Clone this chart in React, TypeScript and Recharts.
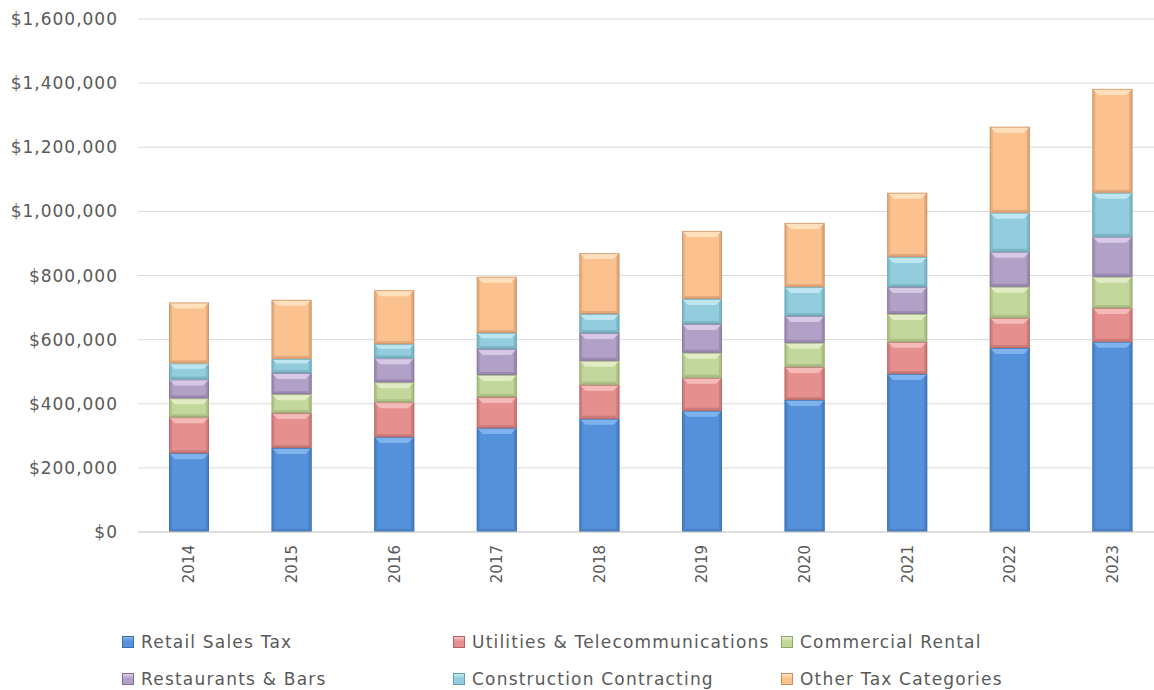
import React from 'react';
import { BarChart, Bar, XAxis, YAxis, CartesianGrid } from 'recharts';

const years = ['2014', '2015', '2016', '2017', '2018', '2019', '2020', '2021', '2022', '2023'];
const retailSales = [246000, 262000, 296000, 324000, 353000, 378000, 412000, 493000, 574000, 593000];
const utilities = [112000, 109000, 109000, 97000, 106000, 103000, 103000, 100000, 94000, 106000];
const commercialRental = [59000, 59000, 62000, 69000, 75000, 78000, 75000, 87000, 97000, 97000];
const restaurants = [59000, 66000, 75000, 81000, 87000, 90000, 84000, 84000, 109000, 125000];
const construction = [50000, 44000, 44000, 50000, 59000, 78000, 90000, 94000, 122000, 137000];
const otherTax = [190000, 184000, 168000, 175000, 190000, 212000, 200000, 200000, 268000, 324000];
const yTicks = [0, 200000, 400000, 600000, 800000, 1000000, 1200000, 1400000, 1600000];

const seriesKeys = ['retail', 'utilities', 'commercial', 'restaurants', 'construction', 'other'];
const seriesNames = [
  'Retail Sales Tax',
  'Utilities & Telecommunications',
  'Commercial Rental',
  'Restaurants & Bars',
  'Construction Contracting',
  'Other Tax Categories',
];
const seriesValues = [retailSales, utilities, commercialRental, restaurants, construction, otherTax];

const palette = [
  { base: '#5591DB', light: '#86B9F0', dark: '#3D6CA8' },
  { base: '#E5908E', light: '#F7C2BF', dark: '#B06462' },
  { base: '#C3D69B', light: '#E6F0CB', dark: '#92A66C' },
  { base: '#B2A1C7', light: '#DCD0EA', dark: '#807097' },
  { base: '#93CDDD', light: '#C6EAF4', dark: '#64A0B0' },
  { base: '#FBC290', light: '#FFE5C6', dark: '#C38E63' },
];

const data = years.map((year, i) => {
  const row: Record<string, string | number> = { year };
  seriesKeys.forEach((k, j) => {
    row[k] = seriesValues[j][i];
  });
  return row;
});

const fmt = (v: number) => '$' + v.toLocaleString('en-US');

const FONT = '"DejaVu Sans", sans-serif';
const TEXT = '#595959';

function Bevel(props: any) {
  const { x, y, width: w, height: h, base, light, dark } = props;
  if (!h || h <= 0) return null;
  const b = Math.min(6, h / 3);
  const s = Math.min(3, h / 4);
  return (
    <g>
      <rect x={x} y={y} width={w} height={h} fill={base} />
      <polygon
        points={`${x},${y} ${x + w},${y} ${x + w - b},${y + b} ${x + b},${y + b}`}
        fill={light}
        opacity={0.85}
      />
      <polygon
        points={`${x},${y} ${x + s},${y + s} ${x + s},${y + h - s} ${x},${y + h}`}
        fill={dark}
        opacity={0.35}
      />
      <polygon
        points={`${x + w},${y} ${x + w - s},${y + s} ${x + w - s},${y + h - s} ${x + w},${y + h}`}
        fill={dark}
        opacity={0.45}
      />
      <polygon
        points={`${x},${y + h} ${x + w},${y + h} ${x + w - s},${y + h - s} ${x + s},${y + h - s}`}
        fill={dark}
        opacity={0.45}
      />
      <rect x={x + 0.5} y={y + 0.5} width={w - 1} height={h - 1} fill="none" stroke={dark} strokeWidth={1} opacity={0.7} />
    </g>
  );
}

function XTick(props: any) {
  const { x, y, payload } = props;
  return (
    <g transform={`translate(${x},${y})`}>
      <text
        transform="rotate(-90)"
        x={0}
        y={0}
        textAnchor="end"
        dominantBaseline="central"
        fill={TEXT}
        fontFamily={FONT}
        fontSize={15}
      >
        {payload.value}
      </text>
    </g>
  );
}

const legendCols = [122, 453, 781];
const legendRows = [642, 679];

export default function App() {
  return (
    <div
      style={{
        position: 'fixed',
        left: 0,
        top: 0,
        width: 1154,
        height: 690,
        overflow: 'hidden',
        background: '#ffffff',
      }}
    >
      <BarChart
        width={1170}
        height={690}
        data={data}
        margin={{ top: 19, right: 6, left: 0, bottom: 88 }}
        barSize={40}
      >
        <CartesianGrid vertical={false} stroke="#D9D9D9" strokeWidth={1} />
        <XAxis
          dataKey="year"
          height={70}
          tickLine={false}
          tickSize={0}
          tickMargin={13}
          axisLine={{ stroke: '#D0D0D0' }}
          tick={<XTick />}
          interval={0}
        />
        <YAxis
          width={138}
          domain={[0, 1600000]}
          ticks={yTicks}
          tickFormatter={fmt}
          axisLine={false}
          tickLine={false}
          tickSize={0}
          tickMargin={20}
          tick={{ fill: TEXT, fontFamily: FONT, fontSize: 17, letterSpacing: 1 }}
          interval={0}
        />
        {seriesKeys.map((k, j) => (
          <Bar
            key={k}
            dataKey={k}
            name={seriesNames[j]}
            stackId="a"
            fill={palette[j].base}
            isAnimationActive={false}
            shape={(p: any) => <Bevel {...p} base={palette[j].base} light={palette[j].light} dark={palette[j].dark} />}
          />
        ))}
      </BarChart>
      {seriesNames.map((name, j) => {
        const col = j % 3;
        const row = Math.floor(j / 3);
        return (
          <div
            key={name}
            style={{
              position: 'absolute',
              left: legendCols[col],
              top: legendRows[row] - 12,
              height: 24,
              display: 'flex',
              alignItems: 'center',
              whiteSpace: 'nowrap',
              fontFamily: FONT,
              fontSize: 17,
              letterSpacing: 1.2,
              color: TEXT,
            }}
          >
            <span
              style={{
                display: 'inline-block',
                width: 10,
                height: 10,
                marginRight: 7,
                border: `1px solid ${palette[j].dark}`,
                background: `linear-gradient(to bottom, ${palette[j].light} 0%, ${palette[j].base} 45%, ${palette[j].base} 100%)`,
              }}
            />
            <span>{name}</span>
          </div>
        );
      })}
    </div>
  );
}
